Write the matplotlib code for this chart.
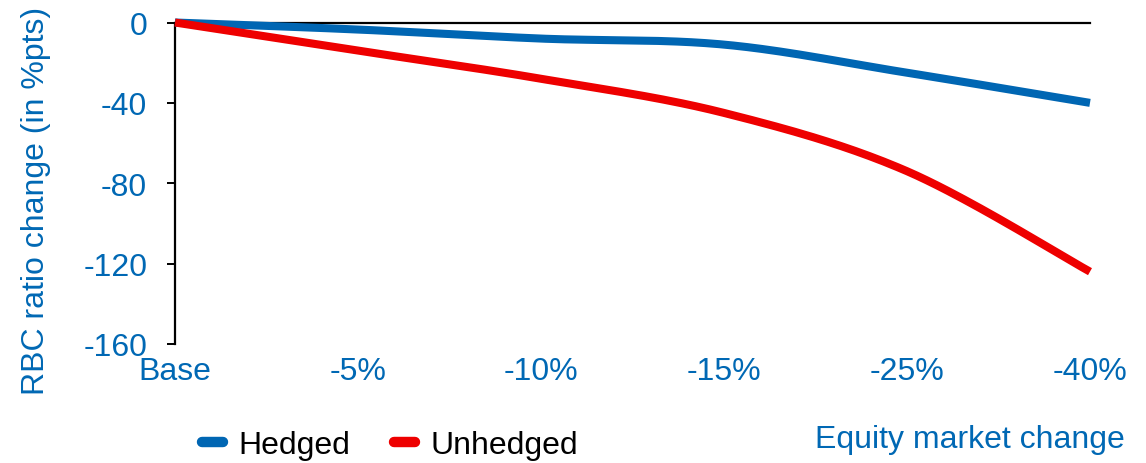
import numpy as np
import matplotlib
matplotlib.use("Agg")
import matplotlib.pyplot as plt
from matplotlib.lines import Line2D

categories = ["Base", "-5%", "-10%", "-15%", "-25%", "-40%"]
hedged = [0, -3.5, -8, -11, -25, -40]
unhedged = [0, -14, -28, -45, -74, -124]
y_ticks = [0, -40, -80, -120, -160]

BLUE = "#0068B4"
LINE_BLUE = "#0066B3"
RED = "#EE0000"

plt.rcParams["font.family"] = ["Liberation Sans", "DejaVu Sans"]
FS = 23


def smooth(xs, ys, n=40):
    """Cardinal (Catmull-Rom style) Bezier smoothing through every point."""
    p = np.column_stack([xs, ys]).astype(float)
    ext = np.vstack([p[0], p, p[-1]])
    out = []
    t = np.linspace(0, 1, n)[:, None]
    for i in range(len(p) - 1):
        p0, p1, p2, p3 = ext[i], ext[i + 1], ext[i + 2], ext[i + 3]
        b1 = p1 + (p2 - p0) / 6.0
        b2 = p2 - (p3 - p1) / 6.0
        seg = ((1 - t) ** 3) * p1 + 3 * ((1 - t) ** 2) * t * b1 + 3 * (1 - t) * t ** 2 * b2 + t ** 3 * p2
        out.append(seg if i == 0 else seg[1:])
    out = np.vstack(out)
    return out[:, 0], out[:, 1]


fig = plt.figure(figsize=(11.46, 4.64), dpi=100)
ax = fig.add_axes([175 / 1146, 1 - 345 / 464, 915 / 1146, 321.5 / 464])

x = np.arange(len(categories))
for vals, col in [(hedged, LINE_BLUE), (unhedged, RED)]:
    sx, sy = smooth(x, vals)
    ax.plot(sx, sy, color=col, lw=5.8, solid_capstyle="butt", clip_on=False, zorder=3)

ax.set_xlim(0, len(categories) - 1)
ax.set_ylim(-160, 0)
ax.set_yticks(y_ticks)
ax.set_yticklabels([str(v) for v in y_ticks])
ax.set_xticks(x)
ax.set_xticklabels(categories)

for s in ["right", "bottom"]:
    ax.spines[s].set_visible(False)
ax.spines["top"].set_linewidth(1.6)
ax.spines["left"].set_linewidth(1.6)
ax.spines["top"].set_color("black")
ax.spines["left"].set_color("black")

ax.tick_params(axis="y", direction="out", length=6, width=1.4, pad=14,
               labelsize=FS, labelcolor=BLUE, color="black")
ax.tick_params(axis="x", length=0, pad=9, labelsize=FS, labelcolor=BLUE)

fig.text(36 / 1146, 1 - 201 / 464, "RBC ratio change (in %pts)", rotation=90,
         ha="center", va="center", fontsize=FS, color=BLUE)
fig.text(1125 / 1146, 1 - 440 / 464, "Equity market change",
         ha="right", va="center", fontsize=FS, color=BLUE)

handles = [Line2D([], [], color=LINE_BLUE, lw=7.5, solid_capstyle="round"),
           Line2D([], [], color=RED, lw=7.5, solid_capstyle="round")]
fig.legend(handles, ["Hedged", "Unhedged"], loc="center left",
           bbox_to_anchor=(202 / 1146, 1 - 446 / 464), ncol=2, frameon=False,
           fontsize=FS, handlelength=0.65, handletextpad=0.5, columnspacing=1.35,
           borderpad=0, borderaxespad=0)

fig.savefig("out.png", dpi=100)
